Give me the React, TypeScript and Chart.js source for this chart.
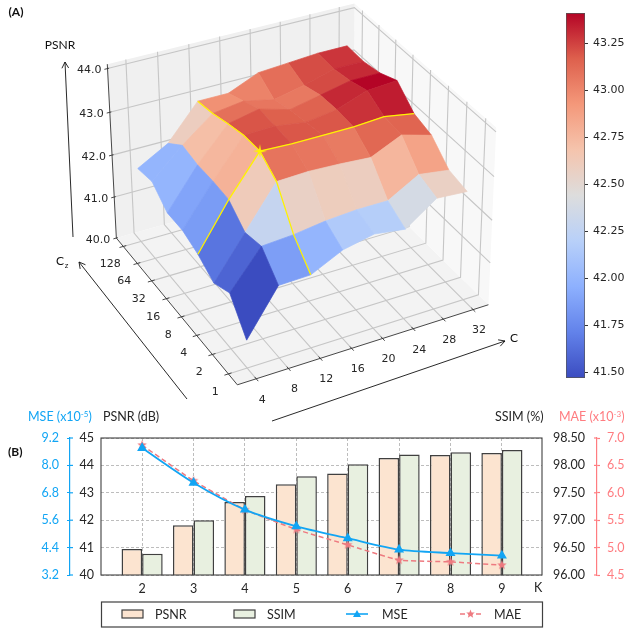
import React, { useEffect, useRef } from "react";
import { Chart, registerables } from "chart.js";
Chart.register(...registerables);

// ---------- Panel A data ----------
const C_TICKS = ["4", "8", "12", "16", "20", "24", "28", "32"];
const CZ_TICKS = ["1", "2", "4", "8", "16", "32", "64", "128"];
const Z_TICKS = [40, 41, 42, 43, 44];
const CBAR_TICKS = [41.5, 41.75, 42, 42.25, 42.5, 42.75, 43, 43.25];
// One row per Cz value (1 ... 128), one column per C value (4 ... 32)
const PSNR_CZ1 = [40.65, 41.68, 41.7, 42.05, 42.2, 42.1, 42.6, 42.55];
const PSNR_CZ2 = [41.3, 42.15, 42.2, 42.3, 42.35, 42.35, 42.75, 42.65];
const PSNR_CZ4 = [41.1, 42.05, 43.0, 43.03, 43.0, 42.95, 43.27, 43.07];
const PSNR_CZ8 = [41.35, 42.4, 43.3, 43.27, 43.27, 43.27, 43.32, 43.2];
const PSNR_CZ16 = [41.5, 42.43, 43.28, 43.3, 43.2, 43.3, 43.55, 43.6];
const PSNR_CZ32 = [41.5, 42.42, 43.17, 43.32, 43.12, 43.27, 43.42, 43.42];
const PSNR_CZ64 = [41.84, 42.49, 43.04, 43.14, 42.99, 43.14, 43.34, 43.34];
const PSNR_CZ128 = [41.76, 42.16, 42.96, 42.96, 43.26, 43.31, 43.36, 43.36];
const SURFACE = [PSNR_CZ1, PSNR_CZ2, PSNR_CZ4, PSNR_CZ8, PSNR_CZ16, PSNR_CZ32, PSNR_CZ64, PSNR_CZ128];
const BEST_C = 2;
const BEST_CZ = 3;

// ---------- Panel B data ----------
const K_VALUES = [2, 3, 4, 5, 6, 7, 8, 9];
const PSNR_DB = [40.95, 41.82, 42.66, 43.31, 43.7, 44.27, 44.38, 44.45];
const SSIM_PCT = [96.39, 97.0, 97.44, 97.8, 98.02, 98.2, 98.24, 98.28];
const MSE_E5 = [8.76, 7.24, 6.06, 5.33, 4.81, 4.31, 4.16, 4.05];
const MAE_E3 = [6.87, 6.22, 5.69, 5.33, 5.05, 4.77, 4.74, 4.68];

// ---------- Styles ----------
const CBAR_MIN = 41.47;
const CBAR_MAX = 43.41;
const FACE_SHIFT = -0.07;
const COOLWARM: number[][] = [
  [59, 76, 192], [98, 130, 234], [141, 176, 254], [184, 208, 249], [221, 221, 221],
  [245, 196, 173], [244, 152, 122], [222, 96, 77], [180, 4, 38],
];
const coolwarm = (t: number) => {
  const c = Math.max(0, Math.min(1, t)) * (COOLWARM.length - 1);
  const k = Math.min(COOLWARM.length - 2, Math.floor(c));
  const f = c - k;
  const m = COOLWARM[k].map((a, n) => Math.round(a + (COOLWARM[k + 1][n] - a) * f));
  return `rgb(${m[0]},${m[1]},${m[2]})`;
};
const BLUE = "#12A5F4";
const RED = "#FF7C80";
const RED_LINE = "#EE7A80";
const DARK = "#404040";
const INK = "#262626";
const MPL_FONT = '11px "DejaVu Sans"';
const FONT = '12.5px Lato';
const PSNR_FILL = "#FCE4D0";
const SSIM_FILL = "#E8F0E0";

// ---------- Perspective camera: box corners (u,v,w) to view units ----------
const Z_MIN = 40;
const Z_MAX = 44.1;
const CAMERA_ANCHORS = [
  [0, 0, 0, 237, 385], [1, 0, 0, 488, 304], [0, 1, 0, 116, 238], [1, 1, 0, 354, 172],
  [0, 1, 1, 108, 64], [1, 0, 1, 497, 128], [1, 1, 1, 353, 3],
];
function solveCamera() {
  const rows: number[][] = [];
  const rhs: number[] = [];
  for (const [u, v, w, X0, Y0] of CAMERA_ANCHORS) {
    const X = X0 / 500, Y = Y0 / 500;
    rows.push([u, v, w, 1, 0, 0, 0, 0, -X * u, -X * v, -X * w]); rhs.push(X);
    rows.push([0, 0, 0, 0, u, v, w, 1, -Y * u, -Y * v, -Y * w]); rhs.push(Y);
  }
  const n = 11;
  const M: number[][] = [];
  for (let a = 0; a < n; a++) {
    const r: number[] = [];
    for (let b = 0; b < n; b++) r.push(rows.reduce((s, q) => s + q[a] * q[b], 0));
    r.push(rows.reduce((s, q, k) => s + q[a] * rhs[k], 0));
    M.push(r);
  }
  for (let c = 0; c < n; c++) {
    let piv = c;
    for (let r = c + 1; r < n; r++) if (Math.abs(M[r][c]) > Math.abs(M[piv][c])) piv = r;
    [M[c], M[piv]] = [M[piv], M[c]];
    for (let r = 0; r < n; r++) {
      if (r === c) continue;
      const f = M[r][c] / M[c][c];
      for (let k = c; k <= n; k++) M[r][k] -= f * M[c][k];
    }
  }
  return M.map((r, i) => r[n] / r[i]);
}
const CAM = solveCamera();
const project = (u: number, v: number, w: number) => {
  const d = CAM[8] * u + CAM[9] * v + CAM[10] * w + 1;
  return {
    x: (500 * (CAM[0] * u + CAM[1] * v + CAM[2] * w + CAM[3])) / d,
    y: (500 * (CAM[4] * u + CAM[5] * v + CAM[6] * w + CAM[7])) / d,
  };
};
const uOf = (i: number) => (i + 0.58) / 8.1;
const vOf = (j: number) => (j + 0.55) / 8.05;
const wOf = (z: number) => (z - Z_MIN) / (Z_MAX - Z_MIN);
const surf = (i: number, j: number) => project(uOf(i), vOf(j), wOf(SURFACE[j][i]));

type P = { x: number; y: number };
const lineSet = (pts: P[], color: string, width: number, order: number) => ({
  data: pts, showLine: true, borderColor: color, borderWidth: width, pointRadius: 0,
  fill: false, order, tension: 0,
});
const polySet = (pts: P[], color: string, order: number, edge = 0.7) => ({
  data: [...pts, pts[0]], showLine: true, borderColor: color, borderWidth: edge, pointRadius: 0,
  backgroundColor: color, fill: "shape", order, tension: 0,
});
const arrowSet = (a: P, b: P, order: number) => {
  const ang = Math.atan2(b.y - a.y, b.x - a.x);
  const h = 7;
  const l = { x: b.x - h * Math.cos(ang - 0.5), y: b.y - h * Math.sin(ang - 0.5) };
  const r = { x: b.x - h * Math.cos(ang + 0.5), y: b.y - h * Math.sin(ang + 0.5) };
  return [lineSet([a, b], "#111", 0.9, order), lineSet([l, b, r], "#111", 0.9, order)];
};
const starCanvas = (r: number, inner: number, n: number, color: string) => {
  const c = document.createElement("canvas");
  c.width = c.height = 2 * r + 2;
  const g = c.getContext("2d")!;
  g.fillStyle = color;
  starPath(g, r + 1, r + 1, r, inner, n);
  g.fill();
  return c;
};
function starPath(g: CanvasRenderingContext2D, x: number, y: number, r: number, inner: number, n: number) {
  g.beginPath();
  for (let k = 0; k < 2 * n; k++) {
    const a = -Math.PI / 2 + (k * Math.PI) / n;
    const q = k % 2 ? inner : r;
    g.lineTo(x + q * Math.cos(a), y + q * Math.sin(a));
  }
  g.closePath();
}

function surfaceDatasets() {
  const sets: any[] = [];
  const GRID = "#C6C6C6";
  sets.push(polySet([project(0, 1, 0), project(0, 1, 1), project(1, 1, 1), project(1, 1, 0)], "#F0F0F0", 1000, 0));
  sets.push(polySet([project(1, 0, 0), project(1, 0, 1), project(1, 1, 1), project(1, 1, 0)], "#F8F8F8", 1000, 0));
  sets.push(polySet([project(0, 0, 0), project(1, 0, 0), project(1, 1, 0), project(0, 1, 0)], "#F3F3F3", 1000, 0));
  C_TICKS.forEach((_, i) => {
    const u = uOf(i);
    sets.push(lineSet([project(u, 0, 0), project(u, 1, 0), project(u, 1, 1)], GRID, 1.1, 900));
  });
  CZ_TICKS.forEach((_, j) => {
    const v = vOf(j);
    sets.push(lineSet([project(0, v, 0), project(1, v, 0), project(1, v, 1)], GRID, 1.1, 900));
  });
  Z_TICKS.slice(1).forEach((z) => {
    const w = wOf(z);
    sets.push(lineSet([project(0, 1, w), project(1, 1, w), project(1, 0, w)], GRID, 1.1, 900));
  });
  sets.push(lineSet([project(0, 1, 0), project(0, 0, 0), project(1, 0, 0)], "#333", 0.9, 890));
  sets.push(lineSet([project(0, 1, 0), project(0, 1, 1)], "#333", 0.9, 890));
  C_TICKS.forEach((_, i) => sets.push(lineSet([project(uOf(i), 0.012, 0), project(uOf(i), -0.015, 0)], "#333", 0.9, 890)));
  CZ_TICKS.forEach((_, j) => sets.push(lineSet([project(0.012, vOf(j), 0), project(-0.015, vOf(j), 0)], "#333", 0.9, 890)));
  Z_TICKS.forEach((z) => sets.push(lineSet([project(0.006, 1, wOf(z)), project(-0.012, 1, wOf(z))], "#333", 0.9, 890)));
  const nx = C_TICKS.length, ny = CZ_TICKS.length;
  for (let j = 0; j < ny - 1; j++) {
    for (let i = 0; i < nx - 1; i++) {
      const mean = (SURFACE[j][i] + SURFACE[j][i + 1] + SURFACE[j + 1][i] + SURFACE[j + 1][i + 1]) / 4;
      const t = (mean + FACE_SHIFT - CBAR_MIN) / (CBAR_MAX - CBAR_MIN);
      sets.push(polySet([surf(i, j), surf(i + 1, j), surf(i + 1, j + 1), surf(i, j + 1)],
        coolwarm(t), 100 + i + j));
    }
  }
  const rowLine = C_TICKS.map((_, i) => surf(i, BEST_CZ));
  const colLine = CZ_TICKS.map((_, j) => surf(BEST_C, j));
  sets.push(lineSet(rowLine, "#FFF200", 1.3, 5));
  sets.push(lineSet(colLine, "#FFF200", 1.3, 5));
  sets.push({ data: [surf(BEST_C, BEST_CZ)], pointStyle: starCanvas(7, 1.6, 4, "#FFF200"), pointRadius: 7, order: 2 });
  sets.push(...arrowSet({ x: 73, y: 237 }, { x: 65, y: 62 }, 3));
  sets.push(...arrowSet({ x: 187, y: 399 }, { x: 79, y: 262 }, 3));
  sets.push(...arrowSet({ x: 272, y: 421 }, { x: 505, y: 341 }, 3));
  return sets;
}

const surfaceText = {
  id: "surfaceText",
  afterDraw(chart: any) {
    const g = chart.ctx as CanvasRenderingContext2D;
    const sx = chart.scales.x, sy = chart.scales.y;
    const put = (t: string, p: P, font: string, color = INK, align: CanvasTextAlign = "center") => {
      g.font = font; g.fillStyle = color; g.textAlign = align; g.textBaseline = "middle";
      g.fillText(t, sx.getPixelForValue(p.x), sy.getPixelForValue(p.y));
    };
    g.save();
    C_TICKS.forEach((t, i) => {
      const p = project(uOf(i), 0, 0);
      put(t, { x: p.x + 6, y: p.y + 21 }, MPL_FONT);
    });
    CZ_TICKS.forEach((t, j) => {
      const p = project(0, vOf(j), 0);
      put(t, { x: p.x - 13, y: p.y + 18 }, MPL_FONT);
    });
    Z_TICKS.forEach((z) => {
      const p = project(0, 1, wOf(z));
      put(z.toFixed(1), { x: p.x - 6, y: p.y + 2 }, MPL_FONT, INK, "right");
    });
    put("(A)", { x: 16, y: 12 }, 'bold 12px Lato', "#111");
    put("PSNR", { x: 60, y: 45 }, '12px Lato', "#111");
    put("C", { x: 60, y: 261 }, '12px Lato', "#111");
    put("z", { x: 66.5, y: 265 }, '8px Lato', "#111");
    put("C", { x: 514, y: 338 }, '12px Lato', "#111");
    g.restore();
  },
};

const bottomDecor = {
  id: "bottomDecor",
  afterDraw(chart: any) {
    const g = chart.ctx as CanvasRenderingContext2D;
    const a = chart.chartArea;
    g.save();
    g.strokeStyle = DARK; g.lineWidth = 1.1;
    g.strokeRect(a.left, a.top, a.right - a.left, a.bottom - a.top);
    // tick marks crossing the outer axes
    const mse = chart.scales.yMse, mae = chart.scales.yMae;
    g.strokeStyle = BLUE; g.lineWidth = 1.2;
    mse.ticks.forEach((t: any) => {
      const y = mse.getPixelForValue(t.value);
      g.beginPath(); g.moveTo(mse.right, y); g.lineTo(mse.right + 3, y); g.stroke();
    });
    g.strokeStyle = RED;
    mae.ticks.forEach((t: any) => {
      const y = mae.getPixelForValue(t.value);
      g.beginPath(); g.moveTo(mae.left, y); g.lineTo(mae.left - 3, y); g.stroke();
    });
    const text = (t: string, x: number, y: number, color = INK, font = FONT, align: CanvasTextAlign = "left") => {
      g.font = font; g.fillStyle = color; g.textAlign = align; g.textBaseline = "middle";
      g.fillText(t, x, y);
      return g.measureText(t).width;
    };
    const sup = (head: string, power: string, x: number, y: number, color: string) => {
      let px = x;
      px += text(head, px, y, color);
      px += text(power, px, y - 3, color, '8px Lato');
      text(")", px, y, color);
    };
    sup("MSE (x10", "-5", 28, 12, BLUE);
    text("PSNR (dB)", 103, 12);
    text("SSIM (%)", 495, 12);
    sup("MAE (x10", "-3", 559, 12, RED);
    text("(B)", 8, 47, "#111", 'bold 12px Lato');
    text("K", 534, 183);
    // legend
    g.strokeStyle = DARK; g.lineWidth = 1.2;
    g.strokeRect(101.5, 197, 441, 25);
    const swatch = (x: number, fill: string) => {
      g.fillStyle = fill; g.strokeStyle = DARK; g.lineWidth = 1.2;
      g.fillRect(x, 205, 21, 8); g.strokeRect(x, 205, 21, 8);
    };
    swatch(122, PSNR_FILL);
    text("PSNR", 155, 209.5);
    swatch(234, SSIM_FILL);
    text("SSIM", 267, 209.5);
    g.strokeStyle = BLUE; g.lineWidth = 1.6;
    g.beginPath(); g.moveTo(346, 209); g.lineTo(368, 209); g.stroke();
    g.fillStyle = BLUE;
    g.beginPath(); g.moveTo(357, 205); g.lineTo(361, 212); g.lineTo(353, 212); g.closePath(); g.fill();
    text("MSE", 382, 209.5);
    g.strokeStyle = RED_LINE; g.setLineDash([5, 3]);
    g.beginPath(); g.moveTo(460, 209); g.lineTo(481, 209); g.stroke();
    g.setLineDash([]);
    g.fillStyle = RED_LINE;
    starPath(g, 470.5, 209, 4.5, 1.9, 5); g.fill();
    text("MAE", 494, 209.5);
    g.restore();
  },
};

export default function App() {
  const topRef = useRef<HTMLCanvasElement>(null);
  const barRef = useRef<HTMLCanvasElement>(null);
  const botRef = useRef<HTMLCanvasElement>(null);

  useEffect(() => {
    const top = new Chart(topRef.current!, {
      type: "scatter",
      data: { datasets: surfaceDatasets() },
      options: {
        responsive: false, animation: false,
        layout: { padding: 0, autoPadding: false },
        plugins: { legend: { display: false }, tooltip: { enabled: false } },
        scales: {
          x: { type: "linear", min: 0, max: 626, display: false },
          y: { type: "linear", min: 0, max: 430, reverse: true, display: false },
        },
      },
      plugins: [surfaceText],
    } as any);

    const cbar = new Chart(barRef.current!, {
      type: "bar",
      data: {
        labels: ["PSNR"],
        datasets: [{
          data: [[CBAR_MIN, CBAR_MAX]],
          categoryPercentage: 1, barPercentage: 1,
          borderColor: "#555", borderWidth: 1, borderSkipped: false,
          backgroundColor: (c: any) => {
            const area = c.chart.chartArea;
            if (!area) return "#ccc";
            const grad = c.chart.ctx.createLinearGradient(0, area.bottom, 0, area.top);
            COOLWARM.forEach((m, k) => grad.addColorStop(k / (COOLWARM.length - 1), `rgb(${m[0]},${m[1]},${m[2]})`));
            return grad;
          },
        }],
      },
      options: {
        responsive: false, animation: false,
        layout: { padding: { top: 13, bottom: 22, left: 26, right: 0 }, autoPadding: false },
        plugins: { legend: { display: false }, tooltip: { enabled: false } },
        scales: {
          x: { display: false },
          y: {
            position: "right", min: CBAR_MIN, max: CBAR_MAX,
            afterBuildTicks: (s: any) => { s.ticks = CBAR_TICKS.map((value) => ({ value })); },
            afterFit: (s: any) => { s.width = 41; },
            border: { display: false },
            grid: { drawOnChartArea: false, tickLength: 3, tickColor: "#333" },
            ticks: { padding: 5, color: INK, font: { family: "DejaVu Sans", size: 11 }, callback: (v: any) => Number(v).toFixed(2) },
          },
        },
      },
    } as any);

    const axisFont = { family: "Lato", size: 12.5 };
    const bot = new Chart(botRef.current!, {
      type: "bar",
      data: {
        datasets: [
          { type: "line", label: "MSE", yAxisID: "yMse", order: 0, data: K_VALUES.map((x, i) => ({ x, y: MSE_E5[i] })),
            borderColor: BLUE, backgroundColor: BLUE, borderWidth: 1.8, tension: 0.25, pointStyle: "triangle", pointRadius: 4 },
          { type: "line", label: "MAE", yAxisID: "yMae", order: 1, data: K_VALUES.map((x, i) => ({ x, y: MAE_E3[i] })),
            borderColor: RED_LINE, borderWidth: 1.5, borderDash: [5, 3], tension: 0.1,
            pointStyle: starCanvas(5, 2.1, 5, RED_LINE), pointRadius: 5 },
          { label: "PSNR", yAxisID: "y", order: 2, data: K_VALUES.map((x, i) => ({ x, y: PSNR_DB[i] })),
            backgroundColor: PSNR_FILL, borderColor: DARK, borderWidth: 1.5, borderSkipped: false, categoryPercentage: 0.8, barPercentage: 1 },
          { label: "SSIM", yAxisID: "ySsim", order: 3, data: K_VALUES.map((x, i) => ({ x, y: SSIM_PCT[i] })),
            backgroundColor: SSIM_FILL, borderColor: DARK, borderWidth: 1.5, borderSkipped: false, categoryPercentage: 0.8, barPercentage: 1 },
        ],
      },
      options: {
        responsive: false, animation: false,
        layout: { padding: { top: 33, left: 0, right: 0, bottom: 0 }, autoPadding: false },
        plugins: { legend: { display: false }, tooltip: { enabled: false } },
        scales: {
          x: {
            type: "linear", min: 1.2, max: 9.78, offset: false,
            afterBuildTicks: (s: any) => { s.ticks = K_VALUES.map((value) => ({ value })); },
            afterFit: (s: any) => { s.height = 53; },
            border: { display: false, dash: [3, 2] },
            grid: { offset: false, color: "#BDBDBD", drawTicks: false },
            ticks: { padding: 6, color: INK, font: axisFont, maxRotation: 0, callback: (v: any) => String(v) },
          },
          y: {
            position: "left", weight: 1, min: 40, max: 45,
            afterFit: (s: any) => { s.width = 31; },
            border: { display: false, dash: [3, 2] },
            grid: { color: "#BDBDBD", drawTicks: false },
            ticks: { stepSize: 1, padding: 7, color: INK, font: axisFont },
          },
          yMse: {
            position: "left", weight: 2, min: 3.2, max: 9.2,
            afterFit: (s: any) => { s.width = 70; },
            border: { display: true, color: BLUE, width: 1.2 },
            grid: { drawOnChartArea: false, tickLength: 3, tickColor: BLUE, tickWidth: 1.2 },
            ticks: { stepSize: 1.2, padding: 8, color: BLUE, font: axisFont, callback: (v: any) => Number(v).toFixed(1) },
          },
          ySsim: {
            position: "right", weight: 1, min: 96, max: 98.5,
            afterFit: (s: any) => { s.width = 55; },
            border: { display: false },
            grid: { drawOnChartArea: false, drawTicks: false },
            ticks: { stepSize: 0.5, padding: 11, color: INK, font: axisFont, callback: (v: any) => Number(v).toFixed(2) },
          },
          yMae: {
            position: "right", weight: 2, min: 4.5, max: 7,
            afterFit: (s: any) => { s.width = 29; },
            border: { display: true, color: RED, width: 1.2 },
            grid: { drawOnChartArea: false, tickLength: 3, tickColor: RED, tickWidth: 1.2 },
            ticks: { stepSize: 0.5, padding: 7, color: RED, font: axisFont, callback: (v: any) => Number(v).toFixed(1) },
          },
        },
      },
      plugins: [bottomDecor],
    } as any);

    return () => { top.destroy(); cbar.destroy(); bot.destroy(); };
  }, []);

  const abs = (left: number, top: number): React.CSSProperties => ({ position: "absolute", left, top, display: "block" });
  return (
    <div style={{ position: "absolute", left: 0, top: 0, width: 626, height: 628, background: "#fff", overflow: "hidden" }}>
      <canvas ref={topRef} width={626} height={430} style={abs(0, 0)} />
      <canvas ref={barRef} width={86} height={400} style={abs(540, 0)} />
      <canvas ref={botRef} width={626} height={223} style={abs(0, 405)} />
    </div>
  );
}
